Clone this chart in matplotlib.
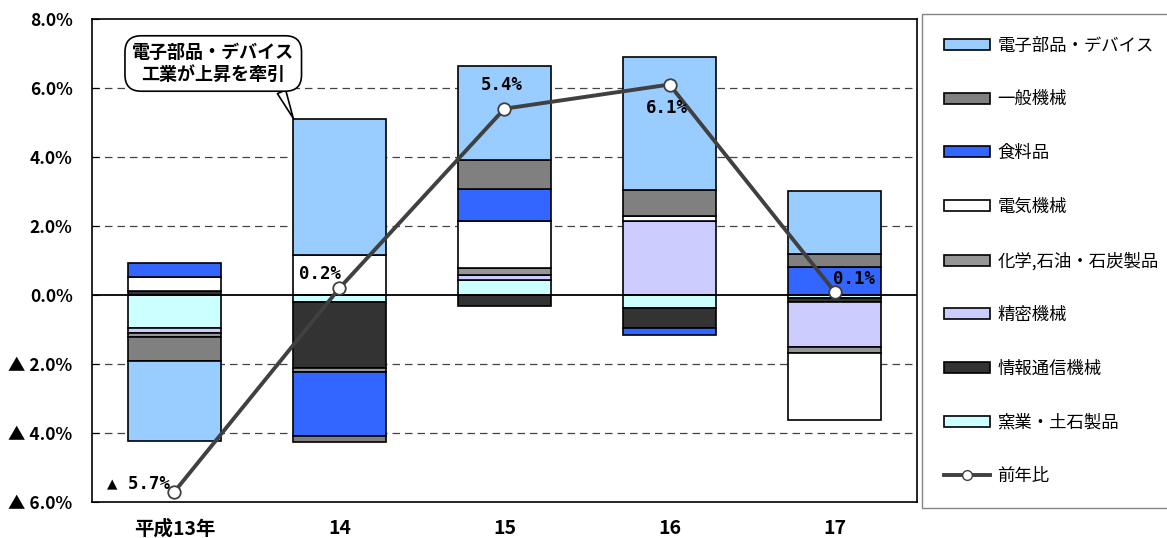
import matplotlib
matplotlib.use("Agg")
import matplotlib.pyplot as plt
import numpy as np
from matplotlib.patches import Patch
from matplotlib.lines import Line2D

plt.rcParams['font.family'] = ['Noto Sans CJK JP', 'DejaVu Sans']

years = ['平成13年', '14', '15', '16', '17']

# contribution by industry (%), stacking order from the zero line outward
yogyo = [-0.96, -0.20, 0.44, -0.38, -0.10]       # 窯業・土石製品
joho = [0.12, -1.92, -0.32, -0.58, -0.10]        # 情報通信機械
seimitsu = [-0.15, 0.00, 0.14, 2.15, -1.32]      # 精密機械
kagaku = [-0.10, -0.12, 0.21, 0.00, -0.16]       # 化学,石油・石炭製品
denki = [0.40, 1.16, 1.36, 0.15, -1.95]          # 電気機械
shokuryo = [0.40, -1.85, 0.93, -0.20, 0.80]      # 食料品
ippan = [-0.70, -0.17, 0.84, 0.75, 0.40]         # 一般機械
denshi = [-2.32, 3.95, 2.72, 3.85, 1.80]         # 電子部品・デバイス

yoy = [-5.7, 0.2, 5.4, 6.1, 0.1]                 # 前年比
yoy_labels = ['▲ 5.7%', '0.2%', '5.4%', '6.1%', '0.1%']

series = [
    ('窯業・土石製品', yogyo, '#CCFFFF'),
    ('情報通信機械', joho, '#333333'),
    ('精密機械', seimitsu, '#CCCCFF'),
    ('化学,石油・石炭製品', kagaku, '#969696'),
    ('電気機械', denki, '#FFFFFF'),
    ('食料品', shokuryo, '#3366FF'),
    ('一般機械', ippan, '#808080'),
    ('電子部品・デバイス', denshi, '#99CCFF'),
]

fig = plt.figure(figsize=(11.67, 5.38), dpi=100)
ax = fig.add_axes([0.0788, 0.0669, 0.7070, 0.8978])

x = np.arange(len(years))
pos_bottom = np.zeros(len(years))
neg_bottom = np.zeros(len(years))
for name, vals, color in series:
    v = np.array(vals)
    bottom = np.where(v >= 0, pos_bottom, neg_bottom)
    ax.bar(x, v, width=0.56, bottom=bottom, color=color, edgecolor='black',
           linewidth=1.2, zorder=3)
    pos_bottom += np.where(v >= 0, v, 0)
    neg_bottom += np.where(v < 0, v, 0)

ax.plot(x, yoy, color='#404040', linewidth=2.8, marker='o', markersize=9,
        markerfacecolor='white', markeredgecolor='#404040',
        markeredgewidth=1.3, zorder=5)

offsets = [(-3, 6), (-14, 10), (-2, 17), (-2, -17), (14, 9)]
aligns = ['right', 'center', 'center', 'center', 'center']
for xi, yi, lab, off, ha in zip(x, yoy, yoy_labels, offsets, aligns):
    ax.annotate(lab, (xi, yi), xytext=off, textcoords='offset points',
                ha=ha, va='center', fontsize=12.5, fontweight='bold',
                family=['DejaVu Sans Mono', 'Noto Sans CJK JP'], zorder=6)

ax.annotate('電子部品・デバイス\n工業が上昇を牽引', xy=(0.72, 5.12), xytext=(0.235, 6.71),
            ha='center', va='center', fontsize=13, fontweight='bold',
            linespacing=1.2,
            bbox=dict(boxstyle='round,pad=0.4,rounding_size=0.9', fc='white',
                      ec='black', lw=1.2),
            arrowprops=dict(arrowstyle='wedge,tail_width=0.5', fc='white',
                            ec='black', lw=1.2, relpos=(0.9, 0.0),
                            shrinkA=0, shrinkB=0),
            zorder=7)

ax.set_xlim(-0.5, 4.5)
ax.set_ylim(-6, 8)
yt = np.arange(-6, 9, 2)
ax.set_yticks(yt)
ax.set_yticklabels([('▲ %.1f%%' % abs(t)) if t < 0 else ('%.1f%%' % t) for t in yt],
                   fontweight='bold', fontsize=12.5, family=['Noto Sans CJK JP'])
ax.tick_params(axis='y', direction='in', length=5, pad=14)
ax.set_xticks(x)
ax.set_xticklabels(years, fontweight='bold', fontsize=14)
ax.tick_params(axis='x', length=0, pad=12)

for t in [-4, -2, 2, 4, 6]:
    ax.axhline(t, color='#444444', linestyle=(0, (6, 4)), linewidth=0.9, zorder=1)
ax.axhline(0, color='black', linewidth=1.3, zorder=4)

for s in ax.spines.values():
    s.set_linewidth(1.2)
    s.set_color('black')

handles = [Patch(facecolor=c, edgecolor='black', linewidth=1.2, label=n)
           for n, v, c in reversed(series)]
handles.append(Line2D([0], [0], color='#404040', linewidth=2.8, marker='o',
                      markersize=7, markerfacecolor='white',
                      markeredgecolor='#404040', label='前年比'))
leg = fig.legend(handles=handles, loc='upper left', bbox_to_anchor=(0.790, 0.974),
                 fontsize=12.5, labelspacing=2.06, handlelength=2.6,
                 handleheight=0.6, handletextpad=0.45, borderpad=1.3,
                 borderaxespad=0, frameon=True, fancybox=False)
leg.get_frame().set_edgecolor('#666666')
leg.get_frame().set_linewidth(1.0)

fig.savefig('out.png', dpi=100)
